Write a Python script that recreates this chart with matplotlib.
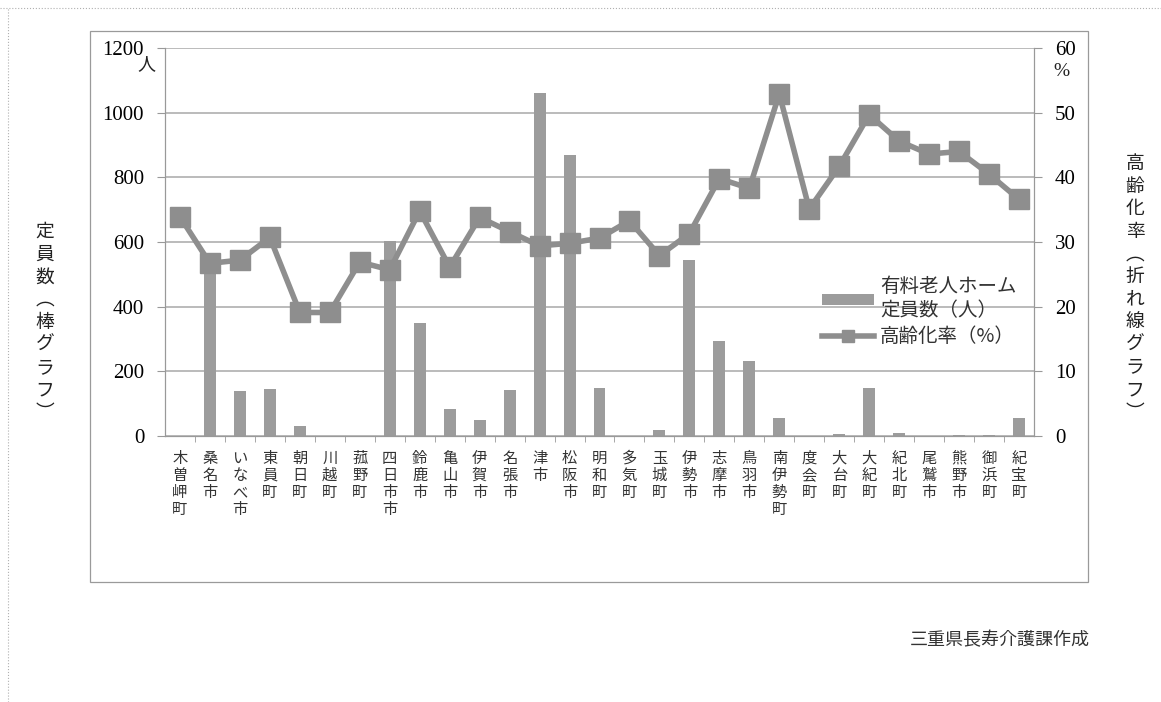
import matplotlib
matplotlib.use('Agg')
import matplotlib.pyplot as plt
from matplotlib.patches import Rectangle
from matplotlib.lines import Line2D
import numpy as np

plt.rcParams['font.family'] = ['Noto Sans CJK JP', 'DejaVu Sans']

towns = ['木曽岬町', '桑名市', 'いなべ市', '東員町', '朝日町', '川越町', '菰野町',
         '四日市市', '鈴鹿市', '亀山市', '伊賀市', '名張市', '津市', '松阪市', '明和町',
         '多気町', '玉城町', '伊勢市', '志摩市', '鳥羽市', '南伊勢町', '度会町', '大台町',
         '大紀町', '紀北町', '尾鷲市', '熊野市', '御浜町', '紀宝町']
capacity = [0, 530, 140, 144, 32, 0, 0, 603, 350, 83, 49, 142, 1062, 869, 150,
            0, 18, 544, 294, 232, 57, 0, 5, 147, 8, 0, 3, 3, 55]
aging = [33.9, 26.7, 27.2, 30.7, 19.1, 19.1, 26.9, 25.7, 34.8, 26.1, 33.8, 31.6,
         29.4, 29.8, 30.6, 33.3, 27.9, 31.3, 39.8, 38.3, 52.9, 35.1, 41.7, 49.7,
         45.6, 43.6, 44.0, 40.5, 36.6]
left_ticks = [0, 200, 400, 600, 800, 1000, 1200]
right_ticks = [0, 10, 20, 30, 40, 50, 60]

W, H = 1161, 702
fig = plt.figure(figsize=(W / 100, H / 100), dpi=100)
ax = fig.add_axes([165 / W, 1 - 436 / H, 869 / W, 388 / H])
ax2 = ax.twinx()

grey = '#8e8e8e'
x = np.arange(len(towns))

# page / chart frames
fig.add_artist(Line2D([0, 1], [1 - 8 / H, 1 - 8 / H], transform=fig.transFigure,
                      color='#b0b0b0', lw=0.8, ls=':'))
fig.add_artist(Line2D([8 / W, 8 / W], [0, 1 - 8 / H], transform=fig.transFigure,
                      color='#b0b0b0', lw=0.8, ls=':'))
fig.add_artist(Rectangle((90 / W, 1 - 582 / H), 998 / W, 551 / H, transform=fig.transFigure,
                         fill=False, ec='#9a9a9a', lw=0.9))

ax.bar(x, capacity, width=0.4, color='#9c9c9c', zorder=2, label='有料老人ホーム\n定員数（人）')
ax.set_xlim(-0.5, len(towns) - 0.5)
ax.set_ylim(0, 1200)
ax.set_yticks(left_ticks)
ax.set_yticklabels([str(t) for t in left_ticks], family='Liberation Serif', fontsize=15)
ax.grid(axis='y', color='#a8a8a8', lw=1.1, zorder=0)
ax.set_axisbelow(True)
ax.tick_params(axis='y', length=6, color='#999999', pad=9)
ax.set_xticks(x)
ax.set_xticklabels(['\n'.join(t) for t in towns], fontsize=11, linespacing=1.0,
                   va='top', color='#333333')
ax.tick_params(axis='x', which='major', length=0, pad=10)
ax.set_xticks(x[:-1] + 0.5, minor=True)
ax.tick_params(axis='x', which='minor', length=4, color='#999999')
for s in ['top']:
    ax.spines[s].set_visible(False)
    ax2.spines[s].set_visible(False)
for s in ['left', 'right', 'bottom']:
    ax.spines[s].set_color('#999999')
    ax2.spines[s].set_color('#999999')

ax2.plot(x, aging, color=grey, lw=4, marker='s', markersize=15, zorder=3,
         label='高齢化率（%）')
ax2.set_ylim(0, 60)
ax2.set_yticks(right_ticks)
ax2.set_yticklabels([str(t) for t in right_ticks], family='Liberation Serif', fontsize=15)
ax2.tick_params(axis='y', length=6, color='#999999', pad=9)

# units
fig.text(146 / W, 1 - 64 / H, '人', fontsize=13, ha='center', va='center', color='#222222')
fig.text(1061 / W, 1 - 72 / H, '%', fontsize=14, ha='center', va='center',
         family='Liberation Serif', color='#222222')

# axis titles (vertical)
fig.text(45 / W, 1 - 322 / H, '\n'.join('定員数') + '\n︵\n' + '\n'.join('棒グラフ') + '\n︶',
         fontsize=13.5, ha='center', va='center', linespacing=1.1, color='#222222')
fig.text(1135 / W, 1 - 288 / H, '\n'.join('高齢化率') + '\n︵\n' + '\n'.join('折れ線グラフ') + '\n︶',
         fontsize=13.5, ha='center', va='center', linespacing=1.1, color='#222222')

h1, l1 = ax.get_legend_handles_labels()
h2, l2 = ax2.get_legend_handles_labels()
leg = ax2.legend(h1 + h2, l1 + l2, loc='upper left', bbox_to_anchor=(812 / W, 1 - 266 / H),
                 bbox_transform=fig.transFigure, frameon=False, fontsize=14,
                 handlelength=2.7, handletextpad=0.3, labelspacing=0.25, borderpad=0,
                 handleheight=0.5, markerscale=0.6)
for t in leg.get_texts():
    t.set_color('#333333')

fig.text(1090 / W, 1 - 640 / H, '三重県長寿介護課作成', fontsize=13, ha='right', va='center',
         color='#333333')

fig.savefig('out.png', dpi=100)
